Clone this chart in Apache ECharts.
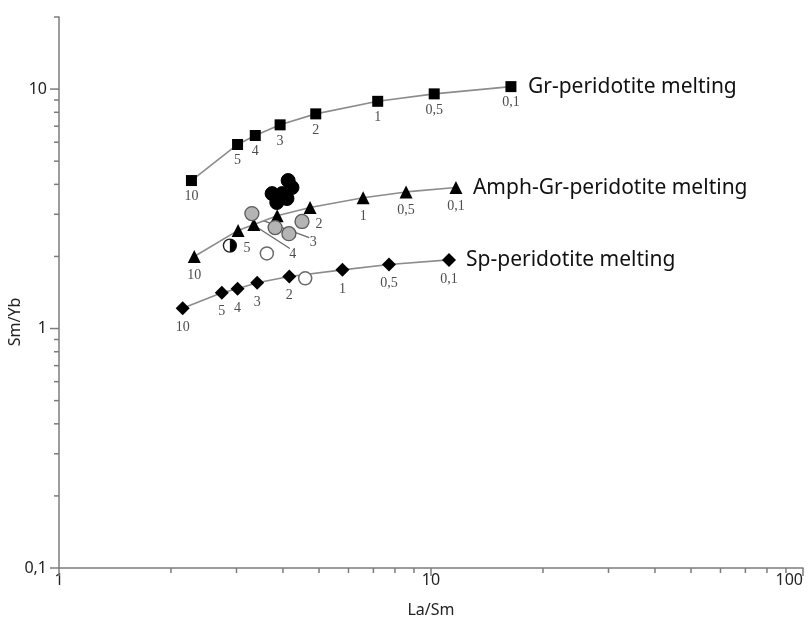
<!DOCTYPE html>
<html>
<head>
<meta charset="utf-8">
<script src="https://cdn.jsdelivr.net/npm/echarts@6/dist/echarts.min.js"></script>
<style>
  html, body { margin: 0; padding: 0; background: #ffffff; }
  #chart { width: 811px; height: 624px; }
</style>
</head>
<body>
<div id="chart"></div>
<script>
// Melting degree (%) marked along each model curve
const meltSteps = ['10', '5', '4', '3', '2', '1', '0,5', '0,1'];

// Garnet-peridotite melting curve
const grLaSm = [2.27, 3.02, 3.37, 3.93, 4.90, 7.19, 10.2, 16.4];
const grSmYb = [4.15, 5.87, 6.40, 7.09, 7.88, 8.89, 9.55, 10.24];

// Amphibole-garnet-peridotite melting curve
const amphLaSm = [2.31, 3.03, 3.34, 3.86, 4.73, 6.57, 8.57, 11.67];
const amphSmYb = [2.00, 2.57, 2.72, 2.96, 3.20, 3.52, 3.72, 3.88];

// Spinel-peridotite melting curve
const spLaSm = [2.15, 2.74, 3.02, 3.41, 4.16, 5.78, 7.71, 11.18];
const spSmYb = [1.215, 1.41, 1.465, 1.552, 1.649, 1.758, 1.85, 1.935];

// Rock samples
const blackLaSm = [4.13, 4.23, 3.74, 3.98, 3.85, 4.10];
const blackSmYb = [4.15, 3.88, 3.66, 3.66, 3.36, 3.49];
const grayLaSm = [3.30, 3.81, 4.15, 4.50];
const graySmYb = [3.02, 2.64, 2.49, 2.80];
const openLaSm = [3.62, 4.59];
const openSmYb = [2.06, 1.62];
const halfLaSm = [2.88];
const halfSmYb = [2.22];

// Axis ticks
const xMajorTicks = [1, 10, 100];
const xMinorTicks = [2, 3, 4, 5, 6, 7, 8, 9, 20, 30, 40, 50, 60, 70, 80, 90];
const yMajorTicks = [0.1, 1, 10];
const yMinorTicks = [0.2, 0.3, 0.4, 0.5, 0.6, 0.7, 0.8, 0.9, 2, 3, 4, 5, 6, 7, 8, 9, 20];

const X_MIN = 1, X_MAX = 100, Y_MIN = 0.1, Y_MAX = 20;

const AXIS_COLOR = '#7c7c7c';
const CURVE_COLOR = '#8c8c8c';
const SANS = '"Noto Sans", "Open Sans", sans-serif';
const SERIF = '"Liberation Serif", "DejaVu Serif", serif';

const zip = (xs, ys) => xs.map((x, i) => [x, ys[i]]);

// Step labels that sit off their default spot on the amphibole curve
// (pixel offsets; "4" and "3" are placed at the end of callout lines)
const amphLabelOffsets = { 1: [9, -1], 2: [39, 11], 3: [36, 8], 4: [9, -2] };
// Callout lines: [point index, start offset, end offset] in pixels
const amphCallouts = [
  [2, [2, 2], [36, 24]],
  [3, [-14, 5], [32, 22]]
];

function stepLabel(distance) {
  return {
    show: true,
    position: 'bottom',
    distance: distance,
    fontFamily: SERIF,
    fontSize: 14,
    color: '#4d4d4d',
    formatter: p => meltSteps[p.dataIndex]
  };
}

function curveSeries(name, xs, ys, symbol, size, labelDist, offsets) {
  const data = zip(xs, ys).map((v, i) => {
    const item = { value: v };
    if (offsets && offsets[i]) item.label = { offset: offsets[i] };
    return item;
  });
  return {
    name: name,
    type: 'line',
    data: data,
    symbol: symbol,
    symbolSize: size,
    showSymbol: true,
    itemStyle: { color: '#000000', opacity: 1 },
    lineStyle: { color: CURVE_COLOR, width: 1.6 },
    label: stepLabel(labelDist),
    endLabel: {
      show: true,
      formatter: '{a}',
      distance: 17,
      fontFamily: SANS,
      fontSize: 21,
      color: '#111111'
    },
    emphasis: { disabled: true },
    z: 3
  };
}

function tickSeries(points, axis, len) {
  return {
    type: 'custom',
    silent: true,
    clip: false,
    data: points,
    z: 5,
    renderItem: (params, api) => {
      const p = api.coord([api.value(0), api.value(1)]);
      const shape = axis === 'x'
        ? { x1: p[0], y1: p[1], x2: p[0], y2: p[1] + len }
        : { x1: p[0], y1: p[1], x2: p[0] - len, y2: p[1] };
      return { type: 'line', shape: shape, style: { stroke: AXIS_COLOR, lineWidth: 1.5 } };
    }
  };
}

function powerLabel(value) {
  const e = Math.log10(value);
  if (Math.abs(e - Math.round(e)) > 1e-6) return '';
  return String(Number(value.toPrecision(6))).replace('.', ',');
}

const chart = echarts.init(document.getElementById('chart'), null, { renderer: 'canvas' });

chart.setOption({
  animation: false,
  backgroundColor: '#ffffff',
  grid: { left: 59, right: 8, top: 17, bottom: 56, containLabel: false, outerBoundsMode: 'none' },
  xAxis: {
    type: 'log',
    logBase: 10,
    min: X_MIN,
    max: X_MAX,
    name: 'La/Sm',
    nameLocation: 'middle',
    nameGap: 34,
    nameTextStyle: { fontFamily: SANS, fontSize: 16, color: '#222222' },
    axisLine: { show: true, lineStyle: { color: AXIS_COLOR, width: 1.5 } },
    axisTick: { show: false },
    splitLine: { show: false },
    minorTick: { show: false },
    axisLabel: {
      margin: 4, fontFamily: SANS, fontSize: 16, color: '#222222',
      formatter: powerLabel, alignMaxLabel: 'right'
    }
  },
  yAxis: {
    type: 'log',
    logBase: 10,
    min: Y_MIN,
    max: Y_MAX,
    axisLine: { show: true, lineStyle: { color: AXIS_COLOR, width: 1.5 } },
    axisTick: { show: false },
    splitLine: { show: false },
    minorTick: { show: false },
    axisLabel: { margin: 12, fontFamily: SANS, fontSize: 16, color: '#222222', formatter: powerLabel }
  },
  graphic: [{
    type: 'text',
    x: 15,
    y: 322,
    rotation: Math.PI / 2,
    style: {
      text: 'Sm/Yb',
      fontFamily: SANS,
      fontSize: 16,
      fill: '#222222',
      align: 'center',
      verticalAlign: 'middle'
    }
  }],
  series: [
    tickSeries(xMajorTicks.map(v => [v, Y_MIN]), 'x', 8),
    tickSeries(xMinorTicks.map(v => [v, Y_MIN]), 'x', 5),
    tickSeries(yMajorTicks.map(v => [X_MIN, v]), 'y', 9),
    tickSeries(yMinorTicks.map(v => [X_MIN, v]), 'y', 5),

    curveSeries('Gr-peridotite melting', grLaSm, grSmYb, 'rect', 11, 3.5),
    curveSeries('Amph-Gr-peridotite melting', amphLaSm, amphSmYb, 'triangle', 13, 5, amphLabelOffsets),
    curveSeries('Sp-peridotite melting', spLaSm, spSmYb, 'diamond', 14, 5),

    {
      type: 'custom',
      silent: true,
      clip: false,
      data: amphCallouts.map(c => [amphLaSm[c[0]], amphSmYb[c[0]], c[1][0], c[1][1], c[2][0], c[2][1]]),
      z: 2,
      renderItem: (params, api) => {
        const p = api.coord([api.value(0), api.value(1)]);
        return {
          type: 'line',
          shape: {
            x1: p[0] + api.value(2), y1: p[1] + api.value(3),
            x2: p[0] + api.value(4), y2: p[1] + api.value(5)
          },
          style: { stroke: '#6a6a6a', lineWidth: 1.3 }
        };
      }
    },

    {
      type: 'scatter',
      data: zip(grayLaSm, graySmYb),
      symbol: 'circle',
      symbolSize: 14,
      itemStyle: { color: '#b4b4b4', borderColor: '#5a5a5a', borderWidth: 1.3, opacity: 1 },
      emphasis: { disabled: true },
      z: 4
    },
    {
      type: 'scatter',
      data: zip(openLaSm, openSmYb),
      symbol: 'circle',
      symbolSize: 13,
      itemStyle: { color: '#ffffff', borderColor: '#6a6a6a', borderWidth: 1.5, opacity: 1 },
      emphasis: { disabled: true },
      z: 4
    },
    {
      type: 'scatter',
      data: zip(blackLaSm, blackSmYb),
      symbol: 'circle',
      symbolSize: 14,
      itemStyle: { color: '#000000', borderColor: '#000000', borderWidth: 1, opacity: 1 },
      emphasis: { disabled: true },
      z: 4
    },
    {
      type: 'custom',
      silent: true,
      data: zip(halfLaSm, halfSmYb),
      z: 4,
      renderItem: (params, api) => {
        const p = api.coord([api.value(0), api.value(1)]);
        const r = 6.5;
        return {
          type: 'group',
          children: [
            { type: 'circle', shape: { cx: p[0], cy: p[1], r: r },
              style: { fill: '#ffffff', stroke: '#222222', lineWidth: 1.4 } },
            { type: 'sector', shape: { cx: p[0], cy: p[1], r0: 0, r: r,
                startAngle: -Math.PI / 2, endAngle: Math.PI / 2, clockwise: true },
              style: { fill: '#000000' } }
          ]
        };
      }
    }
  ]
});
</script>
</body>
</html>
